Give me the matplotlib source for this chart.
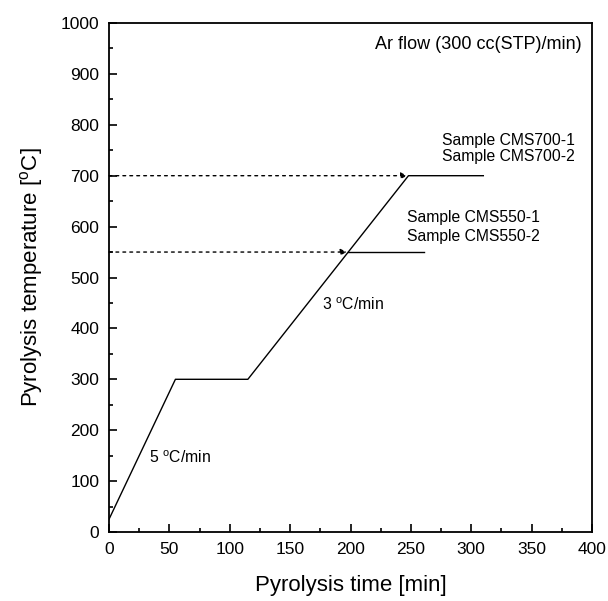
import matplotlib.pyplot as plt
from matplotlib.ticker import MultipleLocator

plt.rcParams['font.family'] = ['Liberation Sans', 'DejaVu Sans']
plt.rcParams['mathtext.fontset'] = 'custom'
plt.rcParams['mathtext.rm'] = 'Liberation Sans'

# heating program (time in min, temperature in C)
time_min = [0, 55, 115, 248, 310]
temp_c = [25, 300, 300, 700, 700]

# CMS550 branch leaves the ramp at 550 C
branch_time = [198, 261]
branch_temp = [550, 550]

# dotted arrows marking the final temperatures
arrow_temps = [700, 550]
arrow_ends = [247, 197]

fig = plt.figure(figsize=(6.08, 6.01), dpi=100, facecolor='white')
ax = fig.add_axes([109/608, 69/601, 483/608, 509/601])

ax.plot(time_min, temp_c, color='black', lw=1.0)
ax.plot(branch_time, branch_temp, color='black', lw=1.0)
for t, xe in zip(arrow_temps, arrow_ends):
    ax.annotate('', xy=(xe, t), xytext=(0, t),
                arrowprops=dict(arrowstyle='-|>', linestyle=(0, (2, 3)), color='black',
                                lw=1.0, mutation_scale=9, shrinkA=0, shrinkB=0))

ax.text(391, 957, 'Ar flow (300 cc(STP)/min)', ha='right', va='center', fontsize=13)
ax.text(276, 770, 'Sample CMS700-1', ha='left', va='center', fontsize=11.3)
ax.text(276, 737, 'Sample CMS700-2', ha='left', va='center', fontsize=11.3)
ax.text(247, 617, 'Sample CMS550-1', ha='left', va='center', fontsize=11.3)
ax.text(247, 581, 'Sample CMS550-2', ha='left', va='center', fontsize=11.3)
ax.text(176, 446, '3 $^{\\rm o}$C/min', ha='left', va='center', fontsize=11.3)
ax.text(33, 145, '5 $^{\\rm o}$C/min', ha='left', va='center', fontsize=11.3)

ax.set_xlim(0, 400)
ax.set_ylim(0, 1000)
ax.xaxis.set_major_locator(MultipleLocator(50))
ax.xaxis.set_minor_locator(MultipleLocator(25))
ax.yaxis.set_major_locator(MultipleLocator(100))
ax.yaxis.set_minor_locator(MultipleLocator(50))
ax.tick_params(which='both', direction='in', top=False, right=False, labelsize=12.5, width=1.2)
ax.tick_params(which='major', length=6, pad=7)
ax.tick_params(which='minor', length=3)
for s in ax.spines.values():
    s.set_linewidth(1.3)

ax.set_xlabel('Pyrolysis time [min]', fontsize=16, labelpad=13)
ax.set_ylabel('Pyrolysis temperature [$^{\\rm o}$C]', fontsize=16, labelpad=11)

plt.savefig('out.png', dpi=100)
